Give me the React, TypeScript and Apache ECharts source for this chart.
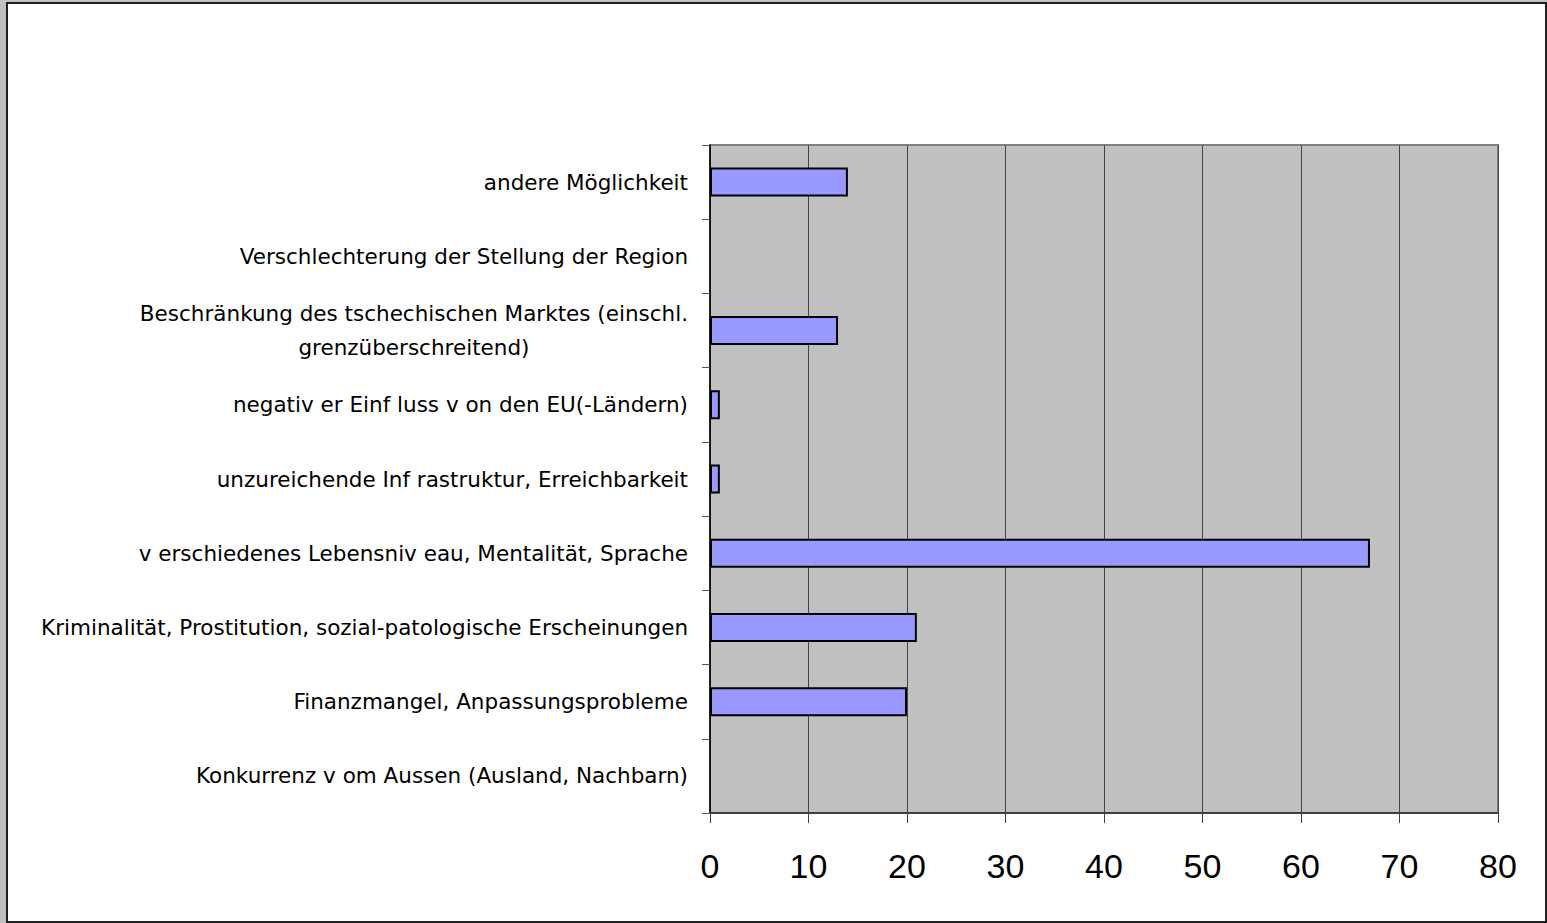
import React, { useEffect, useRef } from "react";
import * as echarts from "echarts";

const categories: string[] = [
  "andere Möglichkeit",
  "Verschlechterung der Stellung der Region",
  "Beschränkung des tschechischen Marktes (einschl.\ngrenzüberschreitend)",
  "negativ er Einf luss v on den EU(-Ländern)",
  "unzureichende Inf rastruktur, Erreichbarkeit",
  "v erschiedenes Lebensniv eau, Mentalität, Sprache",
  "Kriminalität, Prostitution, sozial-patologische Erscheinungen",
  "Finanzmangel, Anpassungsprobleme",
  "Konkurrenz v om Aussen (Ausland, Nachbarn)",
];

const values: number[] = [14, 0, 13, 1, 1, 67, 21, 20, 0];

const xTicks = { min: 0, max: 80, interval: 10 };

const FONT = "'Liberation Sans', Arial, sans-serif";
const LABEL_FONT = "'DejaVu Sans', sans-serif";
const LABEL_SIZE = 21.5;

export default function App() {
  const ref = useRef<HTMLDivElement>(null);

  useEffect(() => {
    document.body.style.margin = "0";
    if (!ref.current) return;
    const chart = echarts.init(ref.current, null, { renderer: "svg" });
    const W = 1547;
    const H = 923;
    chart.setOption({
      animation: false,
      backgroundColor: "#c0c0c0",
      graphic: [
        {
          type: "rect",
          z: -10,
          silent: true,
          shape: { x: 6, y: 2, width: W - 6, height: H - 2 },
          style: { fill: "#202020" },
        },
        {
          type: "rect",
          z: -9,
          silent: true,
          shape: { x: 8, y: 4, width: W - 10, height: H - 6 },
          style: { fill: "#ffffff" },
        },
      ],
      grid: {
        left: 710,
        right: 49,
        top: 145,
        bottom: 110,
        show: true,
        backgroundColor: "#c0c0c0",
        borderColor: "#808080",
        borderWidth: 2,
        z: 0,
      },
      xAxis: {
        type: "value",
        min: xTicks.min,
        max: xTicks.max,
        interval: xTicks.interval,
        axisLine: { show: true, lineStyle: { color: "#404040", width: 2 } },
        axisTick: { show: true, length: 10, lineStyle: { color: "#404040", width: 1 } },
        splitLine: { show: true, lineStyle: { color: "#444444", width: 1 } },
        axisLabel: {
          color: "#000",
          fontSize: 34,
          fontFamily: FONT,
          margin: 36,
        },
      },
      yAxis: {
        type: "category",
        inverse: true,
        data: categories,
        axisLine: { show: true, lineStyle: { color: "#000", width: 1.5 } },
        axisTick: {
          show: true,
          length: 8,
          alignWithLabel: false,
          lineStyle: { color: "#555", width: 1 },
        },
        splitLine: { show: false },
        axisLabel: {
          color: "#000",
          fontSize: LABEL_SIZE,
          fontFamily: LABEL_FONT,
          margin: 22,
          formatter: (v: string) =>
            v
              .split("\n")
              .map((l) => `{c|${l}}`)
              .join("\n"),
          rich: {
            c: {
              align: "center",
              fontSize: LABEL_SIZE,
              fontFamily: LABEL_FONT,
              color: "#000",
              lineHeight: 34,
            },
          },
        },
      },
      series: [
        {
          type: "bar",
          data: values.map((v) =>
            v === 0 ? { value: v, itemStyle: { borderWidth: 0 } } : v
          ),
          barWidth: 29,
          itemStyle: {
            color: "#9999ff",
            borderColor: "#000",
            borderWidth: 2,
          },
          z: 3,
        },
      ],
    });
    return () => chart.dispose();
  }, []);

  return (
    <div
      ref={ref}
      style={{ position: "fixed", left: 0, top: 0, width: 1547, height: 923 }}
    />
  );
}
